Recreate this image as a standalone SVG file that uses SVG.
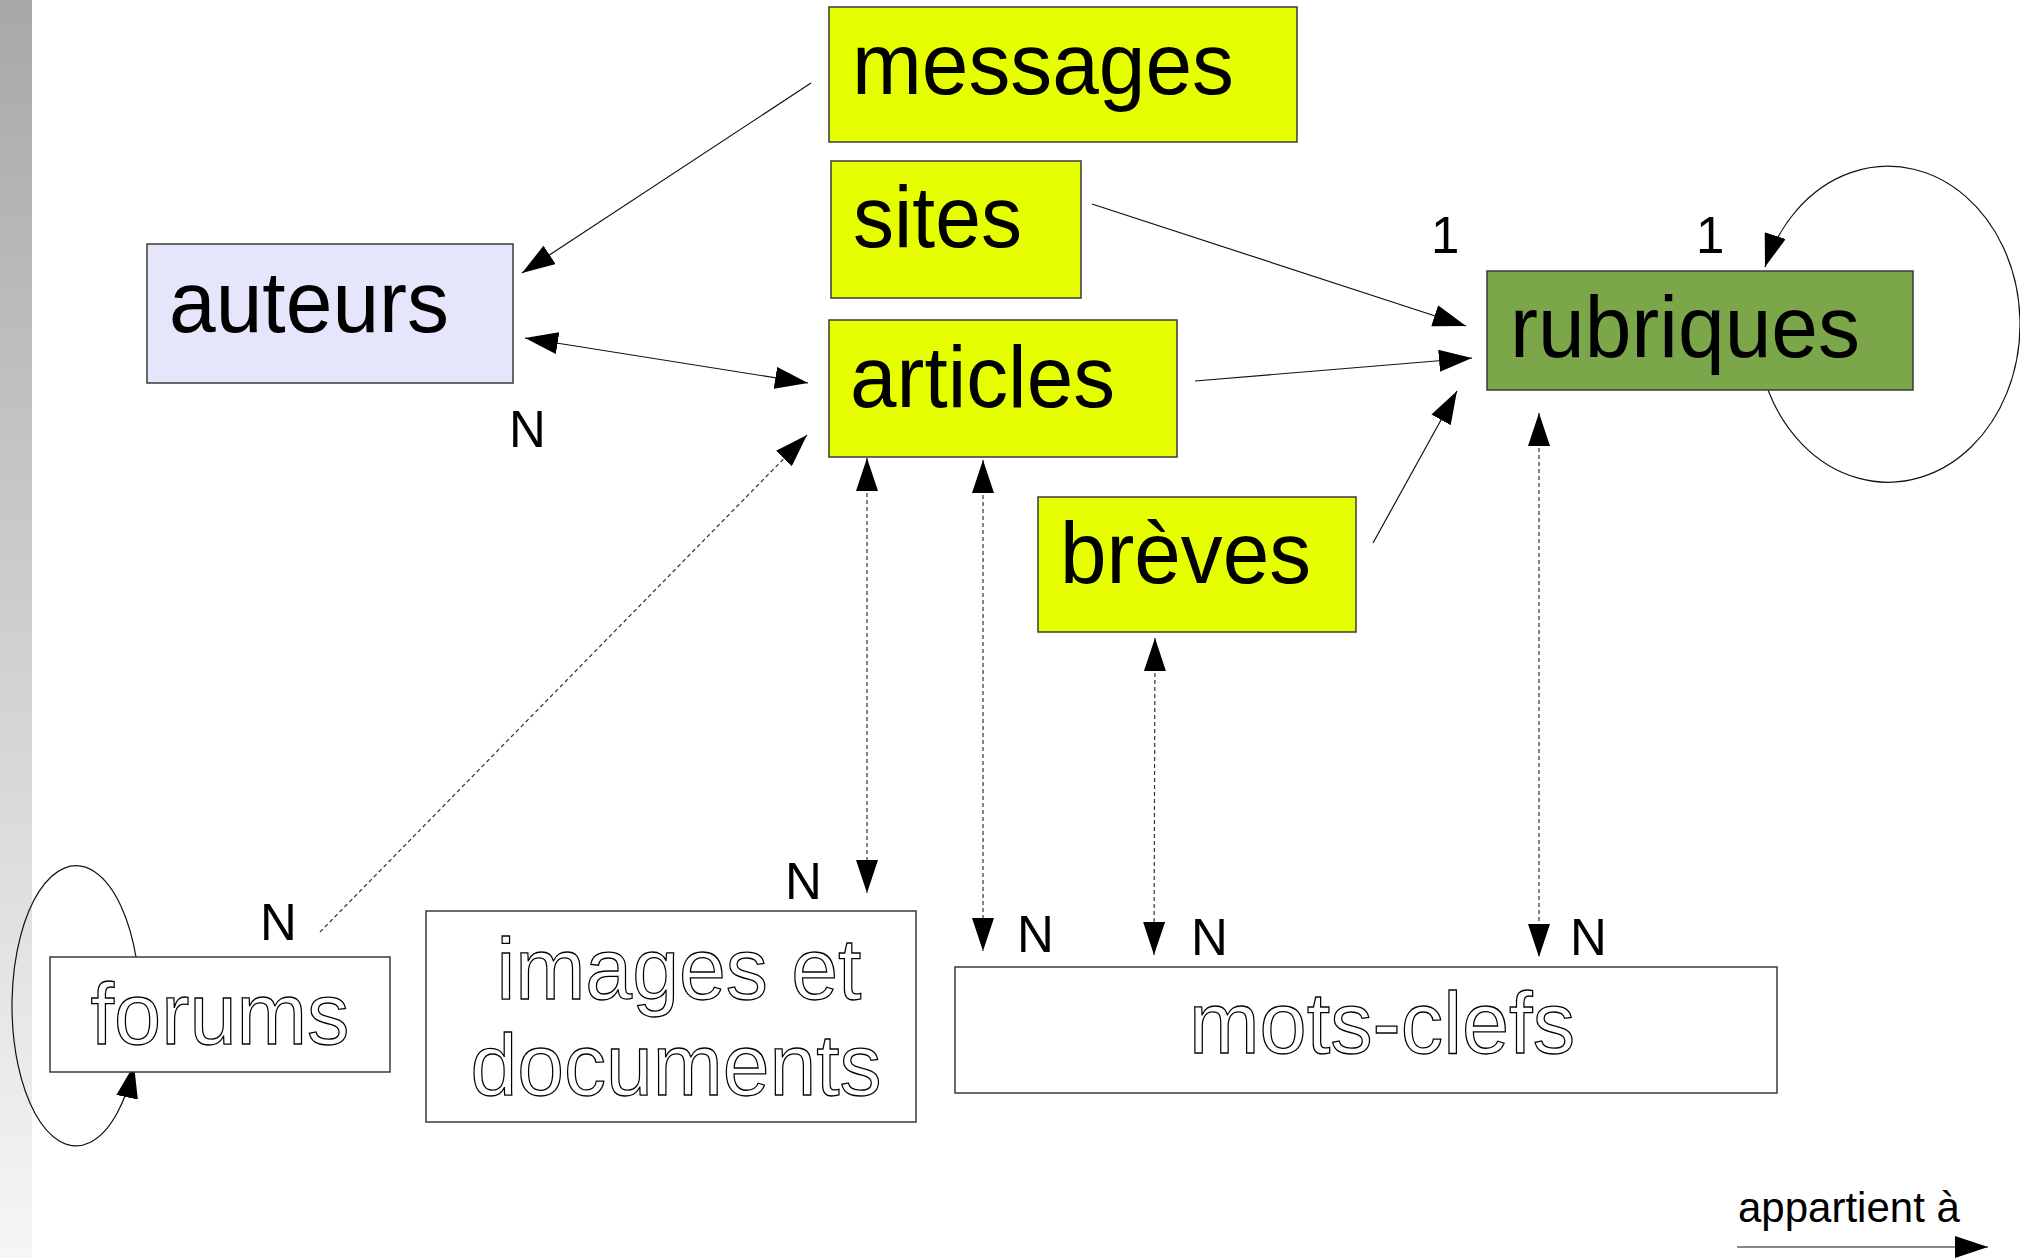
<svg xmlns="http://www.w3.org/2000/svg" width="2020" height="1258" viewBox="0 0 2020 1258">
  <defs>
    <linearGradient id="sidebar" x1="0" y1="0" x2="0" y2="1">
      <stop offset="0" stop-color="#a8a8a8"/>
      <stop offset="1" stop-color="#f6f6f6"/>
    </linearGradient>
    <marker id="arrow" markerUnits="userSpaceOnUse" markerWidth="33" markerHeight="22" refX="33" refY="11" orient="auto-start-reverse" viewBox="0 0 33 22">
      <path d="M0,0 L33,11 L0,22 z" fill="#000"/>
    </marker>
    <style>
      .box { stroke: #3a3a3a; stroke-width: 1.5; }
      .yellow { fill: #e6ff00; }
      .lavender { fill: #e5e5fb; }
      .green { fill: #7ba64a; }
      .plain { fill: #ffffff; }
      .label { font-family: "Liberation Sans", Arial, sans-serif; font-size: 88px; fill: #000; }
      .outline { font-family: "Liberation Sans", Arial, sans-serif; font-size: 88px; fill: #ffffff; stroke: #000; stroke-width: 1.3; text-anchor: middle; }
      .card { font-family: "Liberation Sans", Arial, sans-serif; font-size: 51px; fill: #000; }
      .legend { font-family: "Liberation Sans", Arial, sans-serif; font-size: 42px; fill: #000; }
      .link { fill: none; stroke: #111; stroke-width: 1.2; }
      .dashed { fill: none; stroke: #333; stroke-width: 1.2; stroke-dasharray: 4 3; }
    </style>
  </defs>

  <rect width="2020" height="1258" fill="#ffffff"/>
  <rect x="0" y="0" width="32" height="1258" fill="url(#sidebar)"/>

  <!-- relations -->
  <g id="connectors">
    <path class="link" d="M811,83 L522,273" marker-end="url(#arrow)"/>
    <path class="link" d="M525,338 L808,383" marker-start="url(#arrow)" marker-end="url(#arrow)"/>
    <path class="link" d="M1092,204 L1466,326" marker-end="url(#arrow)"/>
    <path class="link" d="M1195,381 L1472,358" marker-end="url(#arrow)"/>
    <path class="link" d="M1373,543 L1457,391" marker-end="url(#arrow)"/>
    <path class="link" d="M1768,390 A132,158 0 1 0 1765,267" marker-end="url(#arrow)"/>
    <path class="link" d="M136,957 A64,140 0 1 0 134,1065" marker-end="url(#arrow)"/>
    <path class="dashed" d="M320,932 L807,435" marker-end="url(#arrow)"/>
    <path class="dashed" d="M867,458 L867,893" marker-start="url(#arrow)" marker-end="url(#arrow)"/>
    <path class="dashed" d="M983,460 L983,951" marker-start="url(#arrow)" marker-end="url(#arrow)"/>
    <path class="dashed" d="M1155,638 L1154,955" marker-start="url(#arrow)" marker-end="url(#arrow)"/>
    <path class="dashed" d="M1539,413 L1539,957" marker-start="url(#arrow)" marker-end="url(#arrow)"/>
    <path class="link" d="M1737,1247 L1988,1247" marker-end="url(#arrow)"/>
  </g>

  <!-- cardinalities -->
  <g id="cardinalities">
    <text class="card" x="509" y="447">N</text>
    <text class="card" x="1431" y="253">1</text>
    <text class="card" x="1696" y="253">1</text>
    <text class="card" x="260" y="940">N</text>
    <text class="card" x="785" y="899">N</text>
    <text class="card" x="1017" y="952">N</text>
    <text class="card" x="1191" y="955">N</text>
    <text class="card" x="1570" y="955">N</text>
  </g>

  <g id="node-messages">
    <rect class="box yellow" x="829" y="7" width="468" height="135"/>
    <text class="label" x="852" y="94" textLength="382" lengthAdjust="spacingAndGlyphs">messages</text>
  </g>
  <g id="node-sites">
    <rect class="box yellow" x="831" y="161" width="250" height="137"/>
    <text class="label" x="853" y="247" textLength="169" lengthAdjust="spacingAndGlyphs">sites</text>
  </g>
  <g id="node-articles">
    <rect class="box yellow" x="829" y="320" width="348" height="137"/>
    <text class="label" x="850" y="407" textLength="265" lengthAdjust="spacingAndGlyphs">articles</text>
  </g>
  <g id="node-breves">
    <rect class="box yellow" x="1038" y="497" width="318" height="135"/>
    <text class="label" x="1060" y="583" textLength="251" lengthAdjust="spacingAndGlyphs">brèves</text>
  </g>
  <g id="node-auteurs">
    <rect class="box lavender" x="147" y="244" width="366" height="139"/>
    <text class="label" x="169" y="332" textLength="280" lengthAdjust="spacingAndGlyphs">auteurs</text>
  </g>
  <g id="node-rubriques">
    <rect class="box green" x="1487" y="271" width="426" height="119"/>
    <text class="label" x="1510" y="357" textLength="350" lengthAdjust="spacingAndGlyphs">rubriques</text>
  </g>
  <g id="node-forums">
    <rect class="box plain" x="50" y="957" width="340" height="115"/>
    <text class="outline" x="220" y="1044" textLength="259" lengthAdjust="spacingAndGlyphs">forums</text>
  </g>
  <g id="node-images">
    <rect class="box plain" x="426" y="911" width="490" height="211"/>
    <text class="outline" x="679" y="999" textLength="365" lengthAdjust="spacingAndGlyphs">images et</text>
    <text class="outline" x="676" y="1095" textLength="411" lengthAdjust="spacingAndGlyphs">documents</text>
  </g>
  <g id="node-mots-clefs">
    <rect class="box plain" x="955" y="967" width="822" height="126"/>
    <text class="outline" x="1382" y="1053" textLength="386" lengthAdjust="spacingAndGlyphs">mots-clefs</text>
  </g>

  <g id="legend">
    <text class="legend" x="1738" y="1222">appartient à</text>
  </g>
</svg>
